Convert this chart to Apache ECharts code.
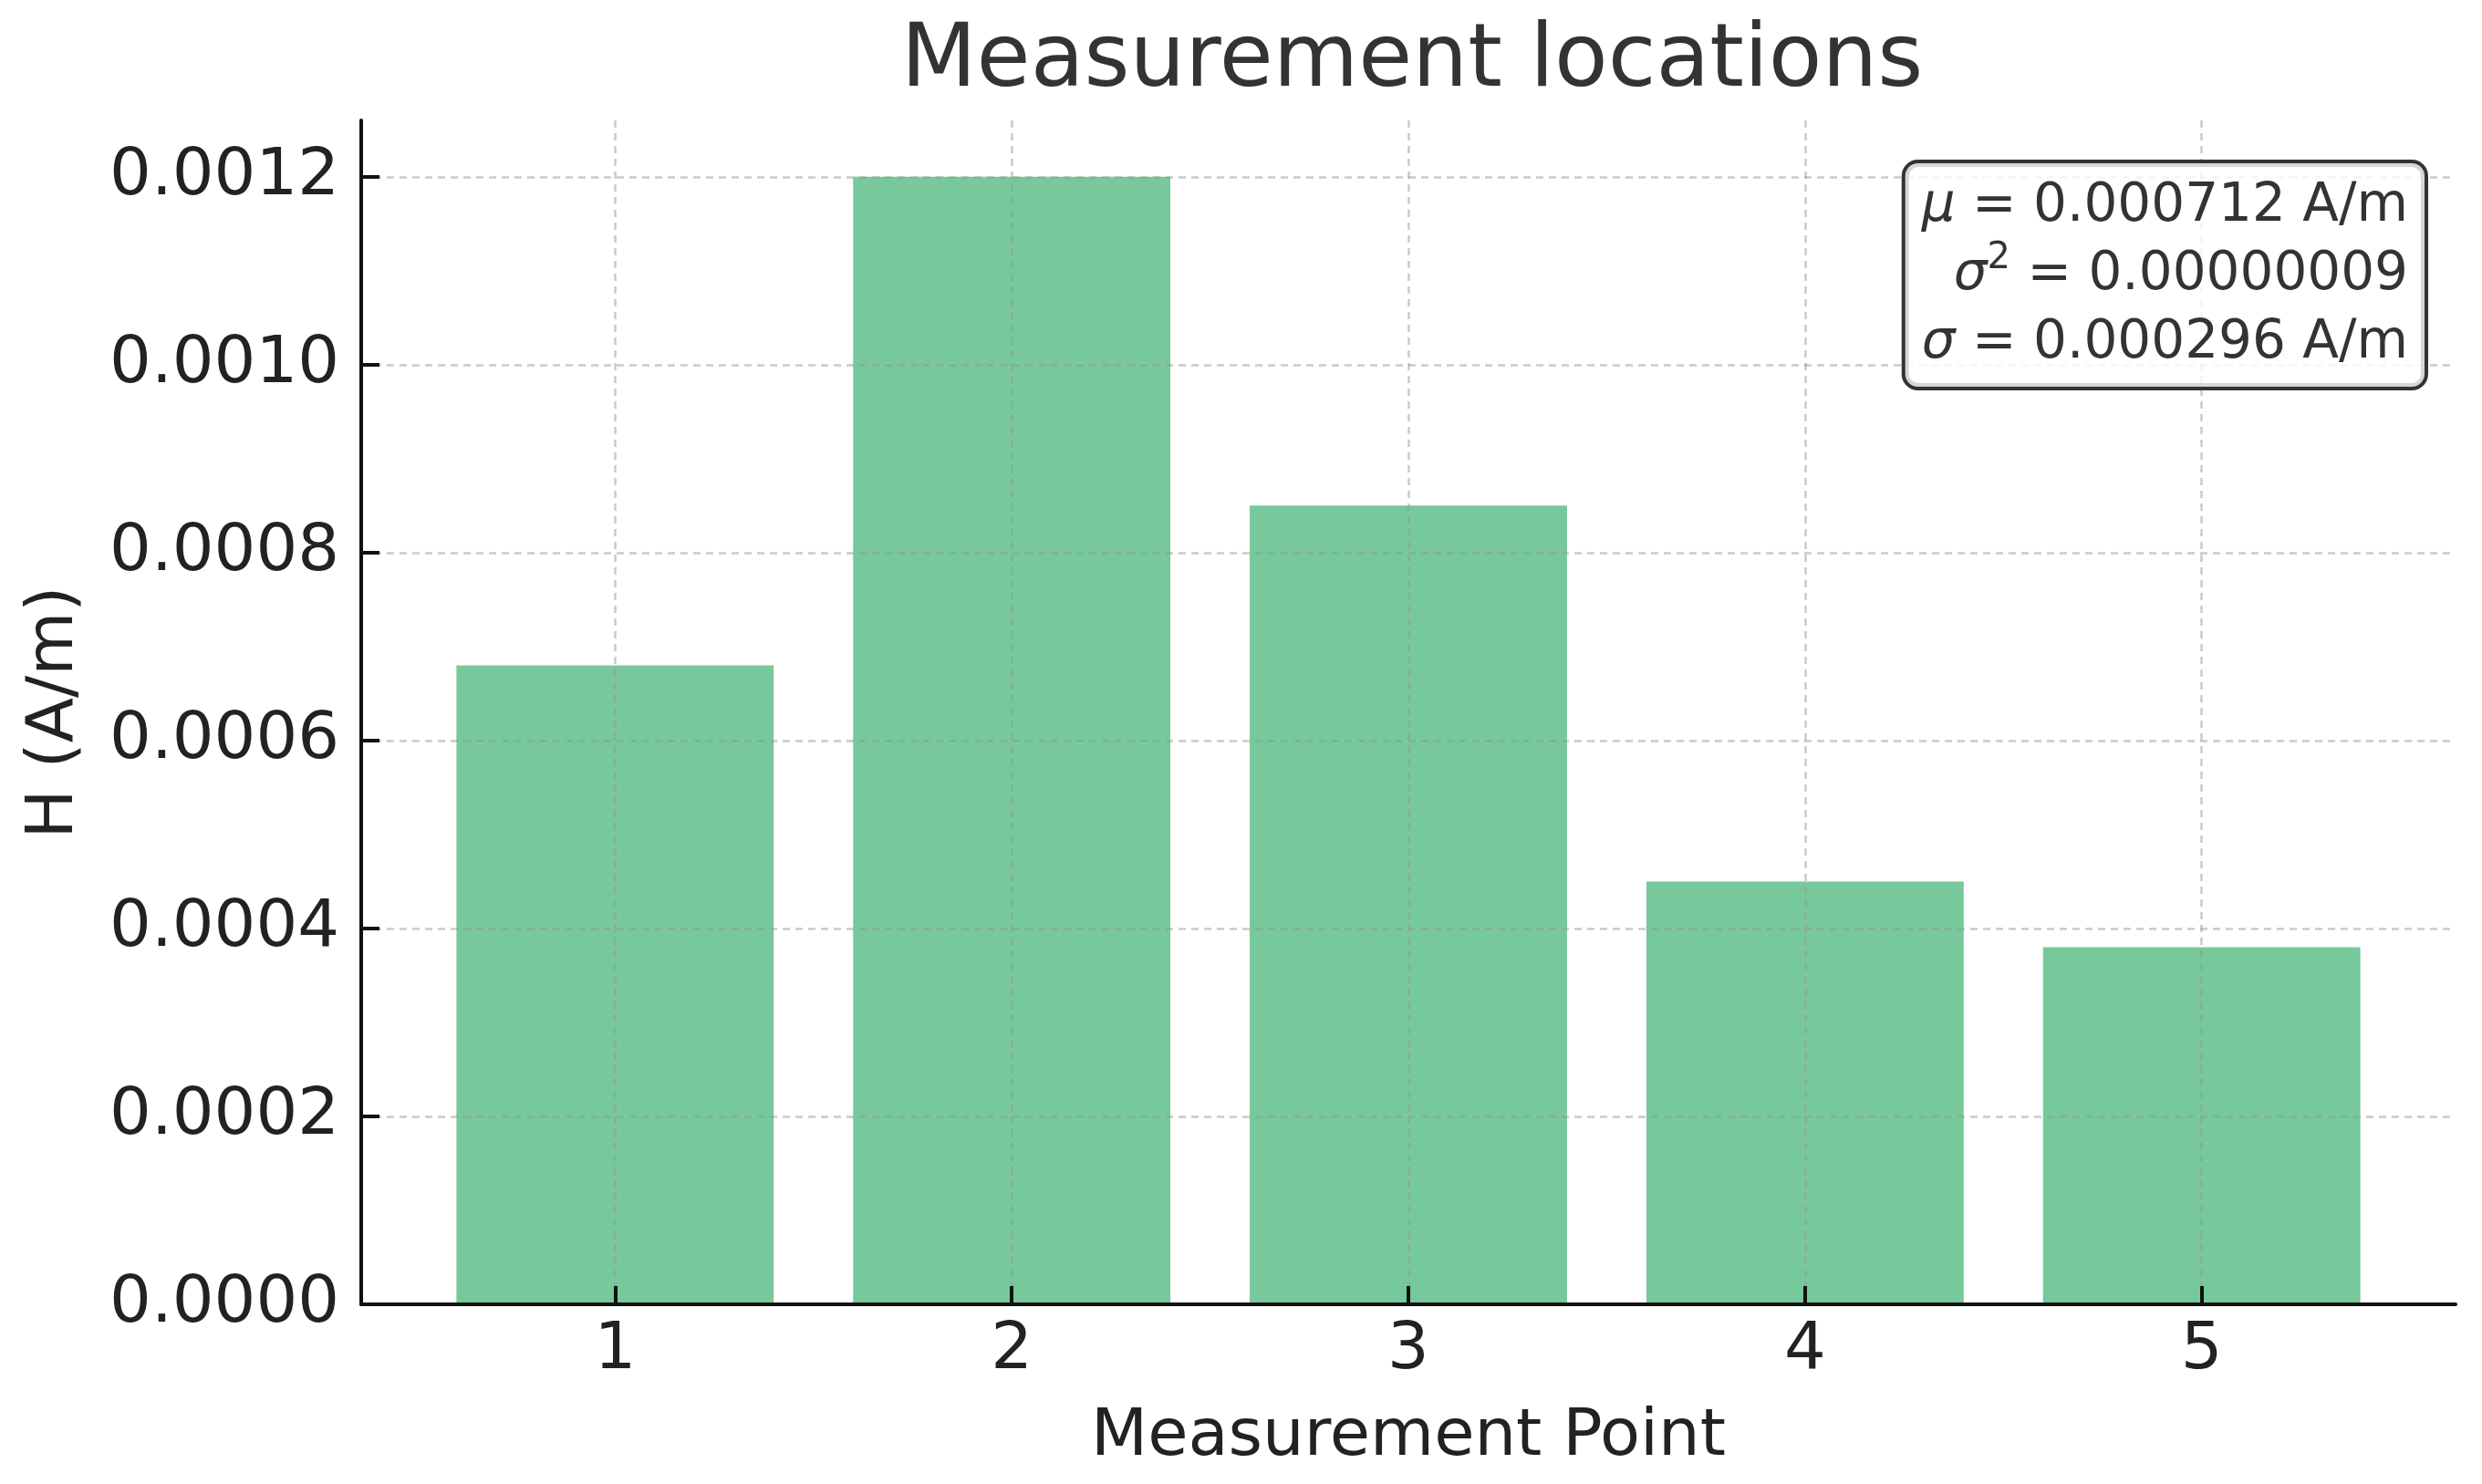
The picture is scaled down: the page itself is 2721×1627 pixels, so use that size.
<!DOCTYPE html>
<html>
<head>
<meta charset="utf-8">
<title>Measurement locations</title>
<script src="https://cdn.jsdelivr.net/npm/echarts@6/dist/echarts.min.js"></script>
<style>
  html, body { margin: 0; padding: 0; background: #fff; }
  #chart { width: 2721px; height: 1627px; }
</style>
</head>
<body>
<div id="chart"></div>
<script>
// measurement points and field strength H (A/m)
const points = [1, 2, 3, 4, 5];
const hValues = [0.00068, 0.0012, 0.00085, 0.00045, 0.00038];

// tick labels
const yTicks = [0, 0.0002, 0.0004, 0.0006, 0.0008, 0.0010, 0.0012];
const xTicks = [1, 2, 3, 4, 5];

// stats box, every piece is a rich token so each line is right aligned
const statsLines = [
  '{i|\u03bc}{t| = 0.000712 A/m}',
  '{i|\u03c3}{sup|2}{t| = 0.00000009}',
  '{i|\u03c3}{t| = 0.000296 A/m}'
];

const FONT = 'DejaVu Sans';
const gridLine = { type: [8, 6], width: 2.5, color: 'rgba(150,150,150,0.5)' };

const chart = echarts.init(document.getElementById('chart'));

const option = {
  animation: false,
  backgroundColor: '#ffffff',
  title: {
    text: 'Measurement locations',
    left: 1543,
    top: 16,
    textAlign: 'center',
    textStyle: { fontFamily: FONT, fontSize: 96, fontWeight: 'normal', color: '#333333' }
  },
  grid: { left: 396, right: 29, top: 132, bottom: 197, containLabel: false },
  xAxis: {
    type: 'value',
    min: 0.36,
    max: 5.64,
    z: 3,
    name: 'Measurement Point',
    nameLocation: 'middle',
    nameGap: 110,
    nameTextStyle: { fontFamily: FONT, fontSize: 72, color: '#222222' },
    axisLine: { show: true, lineStyle: { color: '#111111', width: 4 } },
    axisTick: { show: true, inside: true, length: 20, lineStyle: { color: '#111111', width: 4 }, customValues: xTicks },
    axisLabel: {
      customValues: xTicks,
      margin: 15,
      fontFamily: FONT, fontSize: 72, color: '#222222',
      formatter: v => String(v)
    },
    splitLine: { show: true, lineStyle: gridLine }
  },
  yAxis: {
    type: 'value',
    min: 0,
    max: 0.00126,
    z: 3,
    name: 'H (A/m)',
    nameLocation: 'middle',
    nameGap: 300,
    nameTextStyle: { fontFamily: FONT, fontSize: 72, color: '#222222' },
    axisLine: { show: true, lineStyle: { color: '#111111', width: 4 } },
    axisTick: { show: true, inside: true, length: 20, lineStyle: { color: '#111111', width: 4 }, customValues: yTicks },
    axisLabel: {
      customValues: yTicks,
      margin: 24,
      fontFamily: FONT, fontSize: 72, color: '#222222',
      formatter: v => v.toFixed(4)
    },
    splitLine: { show: true, lineStyle: gridLine }
  },
  series: [{
    type: 'bar',
    data: points.map((p, i) => [p, hValues[i]]),
    barWidth: '80%',
    itemStyle: { color: '#77c99b' }
  }],
  graphic: [{
    type: 'text',
    right: 59,
    top: 175,
    z: 10,
    style: {
      text: statsLines.join('\n'),
      align: 'right',
      fontFamily: FONT,
      fontSize: 58,
      lineHeight: 75,
      fill: '#333333',
      backgroundColor: 'rgba(255,255,255,0.8)',
      borderColor: '#333333',
      borderWidth: 4,
      borderRadius: 14,
      padding: [10, 18, 10, 18],
      rich: {
        i: { fontFamily: FONT, fontStyle: 'italic', fontSize: 58, fill: '#333333', align: 'right' },
        t: { fontFamily: FONT, fontSize: 58, fill: '#333333', align: 'right' },
        sup: { fontFamily: FONT, fontSize: 40, fill: '#333333', align: 'right', verticalAlign: 'top', lineHeight: 62 }
      }
    }
  }]
};

chart.setOption(option);
</script>
</body>
</html>
